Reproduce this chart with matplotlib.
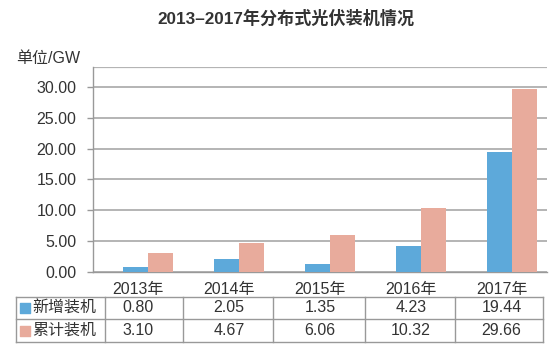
import matplotlib
matplotlib.use("Agg")
import matplotlib.pyplot as plt
import matplotlib.transforms as mtransforms
import numpy as np

plt.rcParams['font.family'] = ['Liberation Sans', 'Noto Sans CJK SC', 'DejaVu Sans']

title = "2013–2017年分布式光伏装机情况"
years = ["2013年", "2014年", "2015年", "2016年", "2017年"]
series_names = ["新增装机", "累计装机"]
new_gw = [0.80, 2.05, 1.35, 4.23, 19.44]
total_gw = [3.10, 4.67, 6.06, 10.32, 29.66]
yticks = [0, 5, 10, 15, 20, 25, 30]

blue = "#5DA9DA"
salmon = "#E8AB9C"
grid_c = "#b4b4b4"
line_c = "#999999"
text_c = "#333333"

W, H = 558, 353
fig = plt.figure(figsize=(W / 100, H / 100), dpi=100)
ax = fig.add_axes([93 / W, 1 - 272 / H, (547 - 93) / W, (272 - 67) / H])

x = np.arange(len(years))
bw = 0.275
shift = 0.11
ax.bar(x + shift - bw / 2, new_gw, bw, color=blue, zorder=3)
ax.bar(x + shift + bw / 2, total_gw, bw, color=salmon, zorder=3)

ax.set_xlim(-0.5, len(years) - 0.5)
ax.set_ylim(0, 33.2)
ax.set_yticks(yticks)
ax.set_yticklabels([f"{v:.2f}" for v in yticks], fontsize=11.5, color=text_c)
ax.set_xticks(x)
ax.set_xticklabels(years, fontsize=11.5, color=text_c)
ax.tick_params(axis='x', length=0, pad=7)
ax.tick_params(axis='y', length=4, width=1, color=line_c, pad=8)
ax.yaxis.grid(True, color=grid_c, linewidth=1.4, zorder=0)
ax.axhline(33.2, color=grid_c, linewidth=1.6, zorder=1)
for s in ['top', 'right']:
    ax.spines[s].set_visible(False)
ax.spines['left'].set_color(line_c)
ax.spines['bottom'].set_color(line_c)
ax.spines['left'].set_linewidth(1)
ax.spines['bottom'].set_linewidth(1)

fig.text(286 / W, 1 - 18 / H, title, ha='center', va='center',
         fontsize=12.3, fontweight='bold', color=text_c)
fig.text(80 / W, 1 - 58 / H, "单位/GW", ha='right', va='center',
         fontsize=11.5, color=text_c)

# data table under the chart
at = fig.add_axes([0, 0, 1, 1], zorder=5)
at.set_xlim(0, W)
at.set_ylim(H, 0)
at.axis('off')
col_edges = [16, 105, 183, 273, 365, 455, 543]
row_edges = [297, 319, 342]
for yy in row_edges:
    at.plot([col_edges[0], col_edges[-1]], [yy, yy], color=line_c, lw=1)
for xx in col_edges:
    at.plot([xx, xx], [row_edges[0], row_edges[-1]], color=line_c, lw=1)

trans = mtransforms.blended_transform_factory(ax.transData, at.transData)
rows = [new_gw, total_gw]
colors = [blue, salmon]
for r, (name, vals, c) in enumerate(zip(series_names, rows, colors)):
    yc = (row_edges[r] + row_edges[r + 1]) / 2
    at.scatter([25], [yc], marker='s', s=60, color=c, zorder=6)
    at.text(32, yc, name, ha='left', va='center', fontsize=11.5, color=text_c)
    for i, v in enumerate(vals):
        at.text(x[i], yc, f"{v:.2f}", transform=trans, ha='center',
                va='center', fontsize=11.5, color=text_c)

fig.savefig("out.png", dpi=100)
